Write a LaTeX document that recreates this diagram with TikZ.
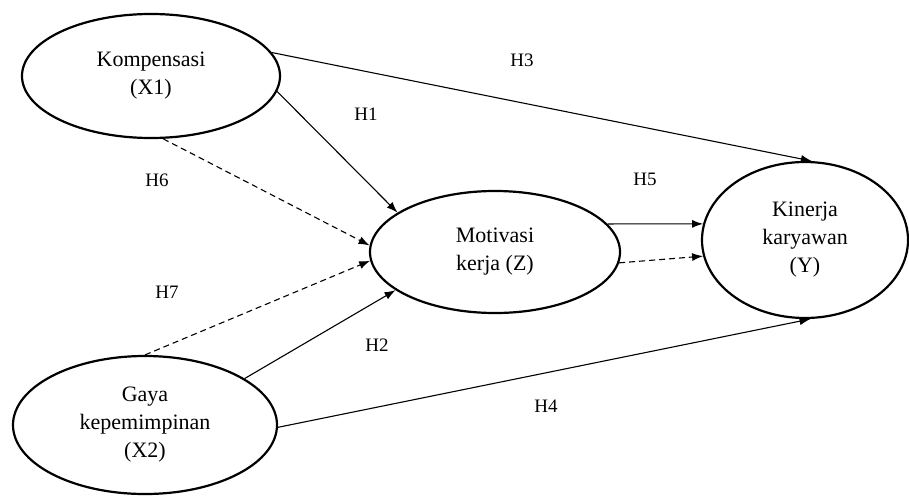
\documentclass[tikz,border=0pt]{standalone}
\usepackage{fontspec}
\setmainfont{Liberation Serif}
\usetikzlibrary{shapes.geometric}
\usetikzlibrary{arrows.meta}
\tikzset{
construct/.style={ % Sets the properties for each construct
ellipse,
draw,
line width=2.2pt,
inner sep=0pt,
align=center,
font=\fontsize{22}{28}\selectfont},
hyp/.style={ % Hypothesis labels
font=\fontsize{19}{22}\selectfont},
relation/.style={ % Sets the properties for each relation
draw,
line width=1.1pt,
-{Latex[length=11pt,width=8pt]}},
indirect/.style={ % Mediated relation
relation,
dash pattern=on 6pt off 4pt}}

\begin{document}
\begin{tikzpicture}[x=1pt,y=-1pt]
\useasboundingbox (0,0) rectangle (909,495);
\node[construct, minimum width=258pt, minimum height=124pt] (x1) at (151,76) {Kompensasi\\(X1)};
\node[construct, minimum width=264pt, minimum height=138pt] (x2) at (145,425) {Gaya\\kepemimpinan\\(X2)};
\node[construct, minimum width=250pt, minimum height=122pt] (z) at (495,252) {Motivasi\\kerja (Z)};
\node[construct, minimum width=206pt, minimum height=156pt] (y) at (805,240) {Kinerja\\karyawan\\(Y)};
% direct paths
\draw[relation] (x1.11) -- (y.85);
\draw[relation] (x1.-7) -- (z.158);
\draw[relation] (x2.25) -- (z.201);
\draw[relation] (x2.-1) -- (y.-86);
\draw[relation] (z.14) -- (y.171);
% indirect paths
\draw[indirect] (x1.-79) -- (z.177);
\draw[indirect] (x2.90) -- (z.184);
\draw[indirect] (z.-5) -- (y.189);
% labels
\node[hyp] (h1) at (366,114) {H1};
\node[hyp] (h2) at (377,345) {H2};
\node[hyp] (h3) at (522,60) {H3};
\node[hyp] (h4) at (546,406) {H4};
\node[hyp] (h5) at (645,179) {H5};
\node[hyp] (h6) at (157,180) {H6};
\node[hyp] (h7) at (167,292) {H7};
\end{tikzpicture}
\end{document}
